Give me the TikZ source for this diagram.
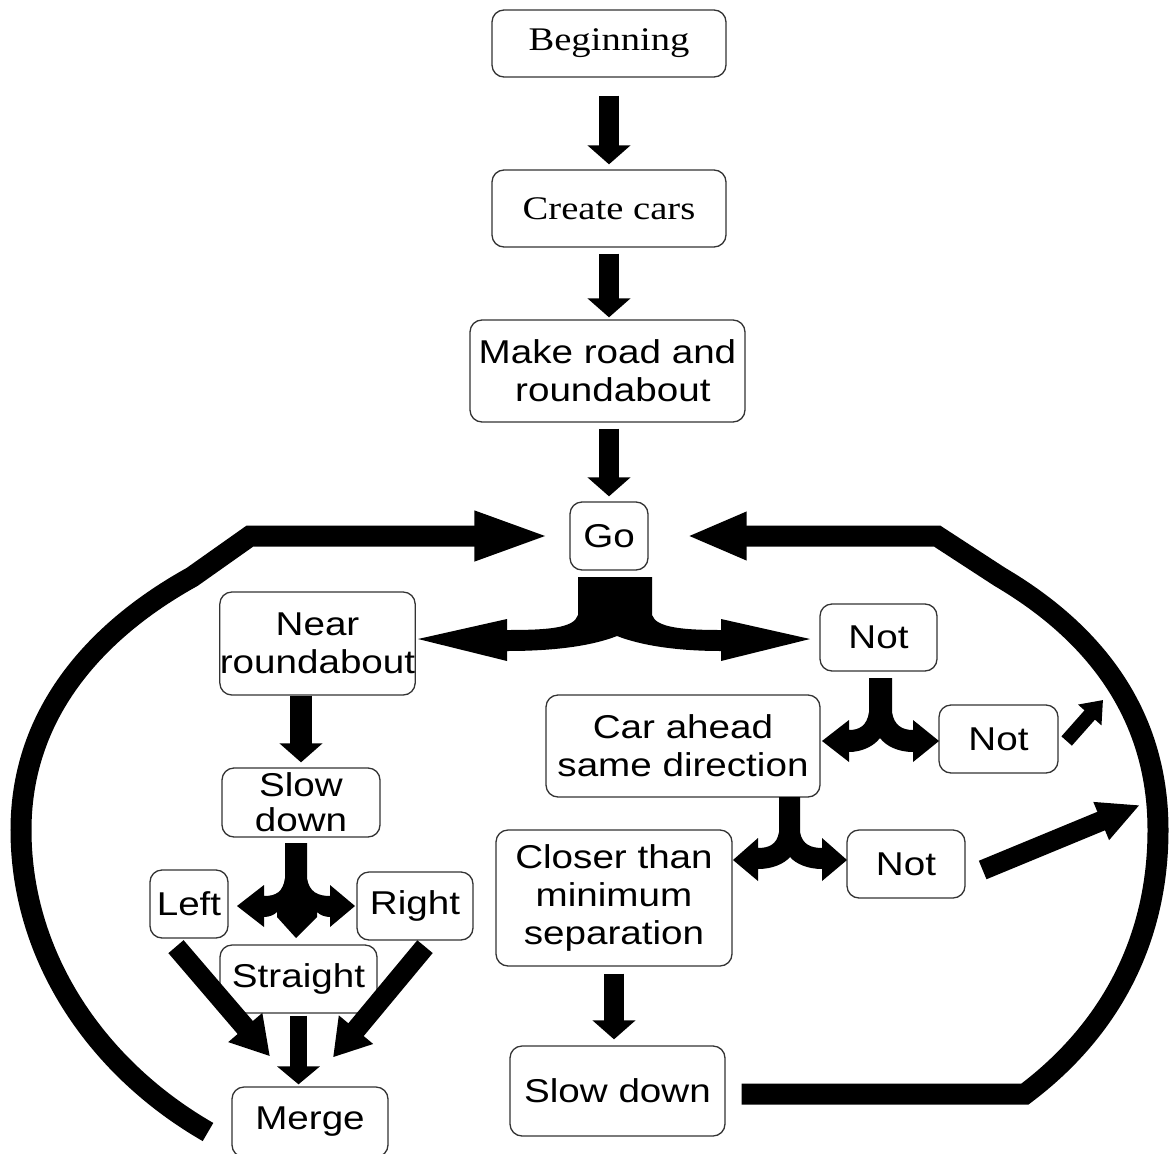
\documentclass[tikz,border=0pt]{standalone}
\usepackage{fontspec}
\setmainfont{Liberation Sans}[FakeStretch=1.17]
\newfontfamily\serifface{Liberation Serif}[FakeStretch=1.17]
\usetikzlibrary{arrows.meta}
\begin{document}
\begin{tikzpicture}[x=1pt,y=-1pt,
  box/.style={draw=black!80, line width=1.3pt, rounded corners=12pt, inner sep=0pt,
    align=center, font=\fontsize{33}{38}\selectfont},
  serifbox/.style={box, font=\serifface\fontsize{33}{38}\selectfont},
  barrow/.style={line width=20pt, -{Triangle[length=19pt,width=42pt]}},
  looparrow/.style={line width=21pt, line join=miter, miter limit=4},
  fatfill/.style={fill=black}
]
\useasboundingbox (0,0) rectangle (1169,1153);

% ---------- nodes ----------
\node[serifbox, minimum width=234, minimum height=67] (begin) at (609,43.5) {Beginning};
\node[serifbox, minimum width=234, minimum height=77] (create) at (609,208.5) {Create cars};
\node[box, minimum width=275, minimum height=102] (make) at (607.5,371) {Make road and\\ \ roundabout};
\node[box, minimum width=78, minimum height=68] (go) at (609,536) {Go};
\node[box, minimum width=195, minimum height=103] (near) at (317.5,643.5) {Near\\roundabout};
\node[box, minimum width=158, minimum height=69, font=\fontsize{33}{35}\selectfont] (slowL) at (301,802.5) {Slow\\down};
\node[box, minimum width=78, minimum height=68] (left) at (189,904) {Left};
\node[box, minimum width=116, minimum height=68] (right) at (415,906) {Right};
\node[box, minimum width=157, minimum height=68] (straight) at (298.5,979) {Straight};
\node[box, minimum width=156, minimum height=70] (merge) at (310,1122) {Merge};
\node[box, minimum width=117, minimum height=67] (notA) at (878.5,637.5) {Not};
\node[box, minimum width=274, minimum height=102] (car) at (683,746) {Car ahead\\same direction};
\node[box, minimum width=119, minimum height=68] (notB) at (998.5,739) {Not};
\node[box, minimum width=118, minimum height=68] (notC) at (906,864) {Not};
\node[box, minimum width=236, minimum height=136] (closer) at (614,898) {Closer than\\minimum\\separation};
\node[box, minimum width=215, minimum height=90] (slowR) at (617.5,1091) {Slow down};

% ---------- straight block arrows ----------
\draw[barrow] ([yshift=-18pt]begin.south) -- ([yshift=5pt]create.north);
\coordinate (cmEnd) at (create.south |- make.north);
\draw[barrow] ([yshift=-6pt]create.south) -- ([yshift=2pt]cmEnd);
\coordinate (mgStart) at (go.north |- make.south);
\draw[barrow] ([yshift=-6pt]mgStart) -- ([yshift=5pt]go.north);
\coordinate (nsTop) at (slowL.north |- near.south);
\draw[barrow, line width=22pt] (nsTop) -- ([yshift=5pt]slowL.north);
\coordinate (csTop) at (closer.south);
\coordinate (csEnd) at (closer.south |- slowR.north);
\draw[barrow] ([yshift=-7pt]csTop) -- ([yshift=6pt]csEnd);
\coordinate (smEnd) at (straight.south |- merge.north);
\draw[line width=17pt, -{Triangle[length=18pt,width=42pt]}] ([yshift=-2pt]straight.south) -- ([yshift=2pt]smEnd);

% diagonal arrows
\draw[line width=20pt, -{Triangle[length=38pt,width=42pt]}]
  ([xshift=-13pt,yshift=-8pt]left.south) -- ([xshift=-40pt,yshift=30pt]merge.north);
\draw[line width=20pt, -{Triangle[length=36pt,width=42pt]}]
  ([xshift=10pt,yshift=-6pt]right.south) -- ([xshift=23pt,yshift=29pt]merge.north);
\coordinate (tipB) at (1103,700);
\draw[line width=14pt, -{Triangle[length=20pt,width=30pt]}]
  ([xshift=8pt,yshift=-2pt]notB.east) -- (tipB);
\coordinate (tipC) at (1140,805);
\draw[line width=20pt, -{Triangle[length=42pt,width=38pt]}]
  ([xshift=17pt,yshift=-6pt]notC.east) -- (tipC);

% ---------- branching arrows ----------
% from Go
\fill[fatfill] (578,577) -- (652,577) -- (652,615)
  .. controls (656,628) and (685,630) .. (721,630) -- (721,619) -- (810,639) -- (721,661) -- (721,651)
  .. controls (675,651) and (640,645) .. (617,636)
  .. controls (594,645) and (559,651) .. (507,651) -- (507,661) -- (418,639) -- (507,619) -- (507,630)
  .. controls (549,630) and (574,628) .. (578,615) -- cycle;
% from upper Not
\fill[fatfill] (869,678) -- (892,678) -- (892,712)
  .. controls (894,726) and (903,730) .. (913,730) -- (913,720) -- (939,741) -- (913,762) -- (913,752)
  .. controls (898,752) and (886,746) .. (880,738)
  .. controls (874,746) and (862,752) .. (849,752) -- (849,762) -- (822,741) -- (849,720) -- (849,730)
  .. controls (859,730) and (867,726) .. (869,712) -- cycle;
% from Car ahead
\fill[fatfill] (779,797) -- (800,797) -- (800,832)
  .. controls (802,845) and (812,848) .. (822,848) -- (822,838) -- (847,860) -- (822,881) -- (822,869)
  .. controls (808,869) and (796,864) .. (790,857)
  .. controls (784,864) and (772,869) .. (758,869) -- (758,881) -- (733,860) -- (758,838) -- (758,848)
  .. controls (768,848) and (777,845) .. (779,832) -- cycle;
% from left Slow down (three-way)
\fill[fatfill] (285,843) -- (307,843) -- (307,878)
  .. controls (309,892) and (318,896) .. (330,896) -- (330,885) -- (355,906) -- (330,927) -- (330,917)
  .. controls (325,917) and (320,915) .. (317,912) -- (317,917) -- (296,938) -- (277,917) -- (277,912)
  .. controls (274,915) and (269,917) .. (264,917) -- (264,927) -- (237,906) -- (264,885) -- (264,896)
  .. controls (276,896) and (283,892) .. (285,878) -- cycle;

% ---------- loops ----------
\coordinate (lend) at (208,1132);
\draw[looparrow, -{Triangle[length=78pt,width=44pt]}] (lend)
  .. controls (100,1070) and (21,960) .. (21,830)
  .. controls (21,710) and (100,628) .. (192,577) -- (250,536) -- ([xshift=-17pt]go.west);
\draw[looparrow, -{Triangle[length=60pt,width=44pt]}] ([xshift=16pt,yshift=-3pt]slowR.east) -- (1025,1094)
  .. controls (1110,1030) and (1158,940) .. (1158,830)
  .. controls (1158,710) and (1090,630) .. (1000,577) -- (937,536) -- ([xshift=38pt]go.east);
\end{tikzpicture}
\end{document}
